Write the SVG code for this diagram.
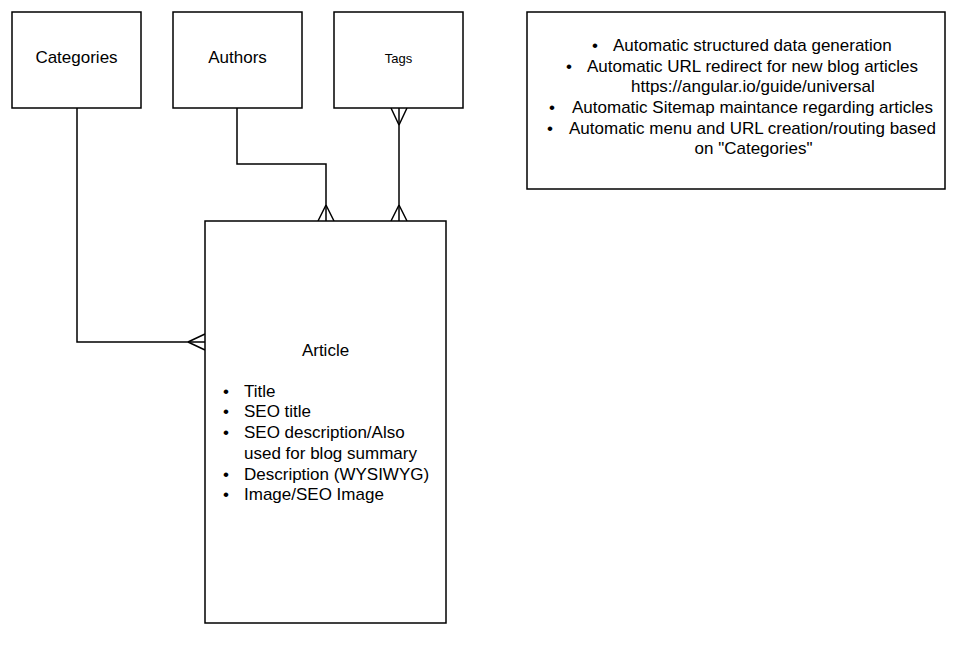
<svg xmlns="http://www.w3.org/2000/svg" width="971" height="651" viewBox="0 0 971 651">
<style>
.box{fill:#fff;stroke:#000;stroke-width:1.5}
.ln{fill:none;stroke:#000;stroke-width:1.5}
text{font-family:"Liberation Sans",Arial,sans-serif;font-size:17px;fill:#000}
.c{text-anchor:middle}
</style>
<rect width="971" height="651" fill="#fff"/>
<g id="connectors">
<path class="ln" d="M77 108 V342 H205"/>
<path class="ln" d="M188 342 L205 334 M188 342 L205 350"/>
<path class="ln" d="M237 108 V164 H326 V221"/>
<path class="ln" d="M326 205 L318 221 M326 205 L334 221"/>
<path class="ln" d="M399 108 V221"/>
<path class="ln" d="M399 125 L391 108 M399 125 L407 108"/>
<path class="ln" d="M399 205 L391 221 M399 205 L407 221"/>
</g>
<g id="categories">
<rect class="box" x="12" y="12" width="129" height="96"/>
<text class="c" x="76.5" y="63">Categories</text>
</g>
<g id="authors">
<rect class="box" x="173" y="12" width="129" height="96"/>
<text class="c" x="237.5" y="63">Authors</text>
</g>
<g id="tags">
<rect class="box" x="334" y="12" width="129" height="96"/>
<text class="c" x="398.5" y="63" style="font-size:13px">Tags</text>
</g>
<g id="features">
<rect class="box" x="527" y="12" width="418" height="177"/>
<text x="592" y="51">•</text><text x="613" y="51">Automatic structured data generation</text>
<text x="566" y="72">•</text><text x="587" y="72">Automatic URL redirect for new blog articles</text>
<text x="631" y="92">https://angular.io/guide/universal</text>
<text x="549" y="113">•</text><text x="572" y="113">Automatic Sitemap maintance regarding articles</text>
<text x="547" y="134">•</text><text x="569" y="134">Automatic menu and URL creation/routing based</text>
<text class="c" x="753.5" y="154">on "Categories"</text>
</g>
<g id="article">
<rect class="box" x="205" y="221" width="241" height="402"/>
<text class="c" x="325.5" y="356">Article</text>
<text x="223" y="397">•</text><text x="244" y="397">Title</text>
<text x="223" y="417">•</text><text x="244" y="417">SEO title</text>
<text x="223" y="438">•</text><text x="244" y="438">SEO description/Also</text>
<text x="244" y="459">used for blog summary</text>
<text x="223" y="480">•</text><text x="244" y="480">Description (WYSIWYG)</text>
<text x="223" y="500">•</text><text x="244" y="500">Image/SEO Image</text>
</g>
</svg>
